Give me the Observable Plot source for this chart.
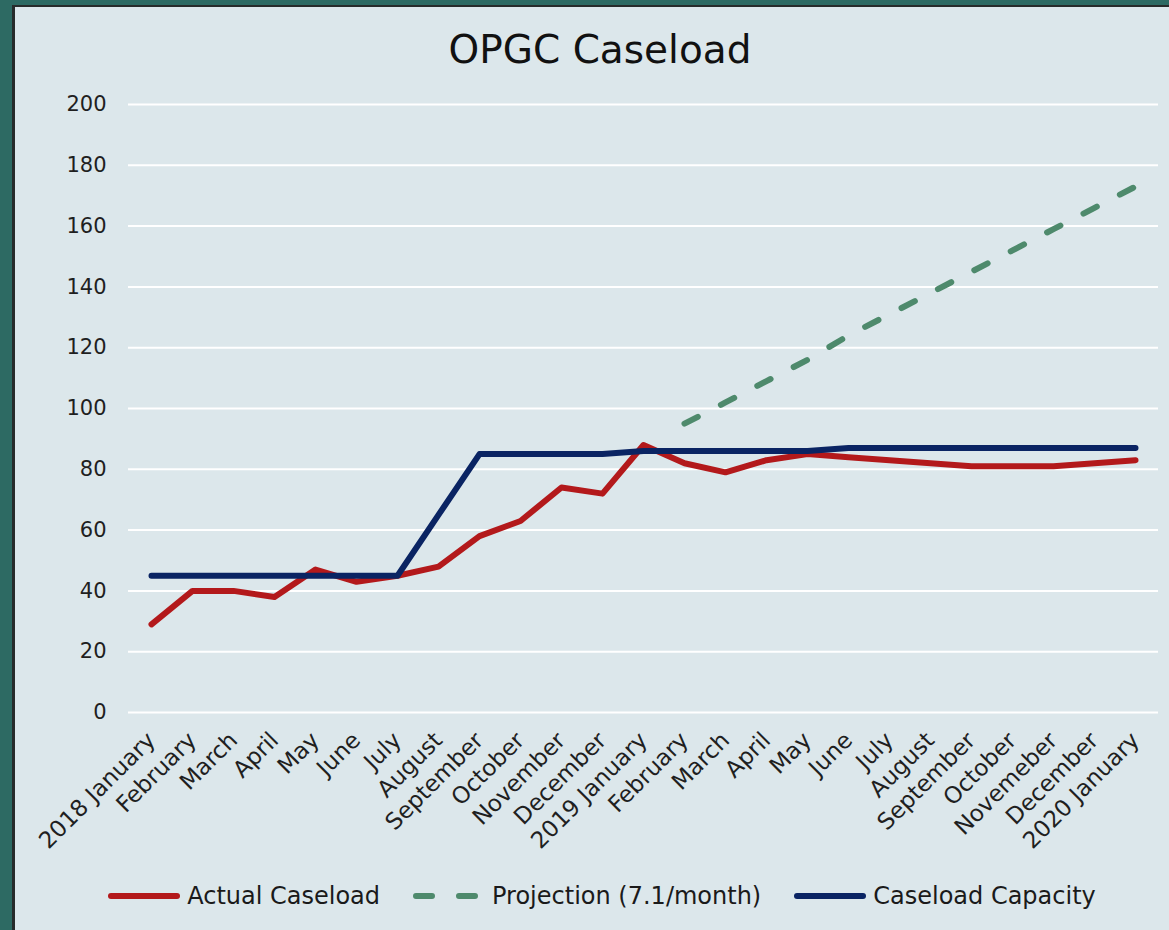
<!DOCTYPE html>
<html>
<head>
<meta charset="utf-8">
<script src="https://cdn.jsdelivr.net/npm/d3@7"></script>
<script src="https://cdn.jsdelivr.net/npm/@observablehq/plot@0.6"></script>
<style>
  html, body { margin: 0; padding: 0; }
  body { width: 1169px; height: 930px; overflow: hidden; background: #2d6a63; position: relative; font-family: "DejaVu Sans", sans-serif; }
  #panel { position: absolute; left: 12px; top: 5px; width: 1157px; height: 925px; box-sizing: border-box;
           border-left: 3px solid #272b2b; border-top: 2px solid #272b2b; background: #dce7eb; }
  #title { position: absolute; left: 15px; width: 1170px; top: 27px; text-align: center; font-size: 39px; color: #111; }
  #chart { position: absolute; left: 15px; top: 80px; }
  #legend { position: absolute; left: 0px; width: 1204px; top: 882px; display: flex; justify-content: center; gap: 33px; font-size: 24px; color: #1a1a1a; }
  .item { display: flex; align-items: center; gap: 7px; }
</style>
</head>
<body>
<div id="panel"></div>
<div id="title">OPGC Caseload</div>
<div id="chart"></div>
<div id="legend"></div>
<script>
const monthLabels = ["2018 January","February","March","April","May","June","July","August","September","October","November","December",
  "2019 January","February","March","April","May","June","July","August","September","October","Novemeber","December","2020 January"];
const actualCaseload = [29,40,40,38,47,43,45,48,58,63,74,72,88,82,79,83,85,84,83,82,81,81,81,82,83];
const caseloadCapacity = [45,45,45,45,45,45,45,65,85,85,85,85,86,86,86,86,86,87,87,87,87,87,87,87,87];
const projectionStart = 13; // index of 2019 February
const projection = [95,102,109,116,124,131,138,145,152,159,166,173];
const yTicks = [0,20,40,60,80,100,120,140,160,180,200];

const seriesNames = ["Actual Caseload","Projection (7.1/month)","Caseload Capacity"];
const seriesColors = ["#b3191b","#4e8a6c","#0a2463"];

const actualData = actualCaseload.map((v,i)=>({i, v}));
const capData = caseloadCapacity.map((v,i)=>({i, v}));
const projData = projection.map((v,k)=>({i: projectionStart + k, v}));

const plot = Plot.plot({
  width: 1154,
  height: 780,
  marginLeft: 113,
  marginRight: 11,
  marginTop: 24,
  marginBottom: 148,
  style: { background: "transparent", fontSize: "21px", fontFamily: "DejaVu Sans, sans-serif", color: "#1f1f1f", overflow: "visible" },
  x: { type: "point", domain: d3.range(monthLabels.length), padding: 0.5, label: null },
  y: { domain: [0, 200], label: null },
  marks: [
    Plot.ruleY(yTicks, { stroke: "#ffffff", strokeWidth: 2 }),
    Plot.axisY({ ticks: yTicks, tickSize: 0, tickPadding: 22, label: null }),
    Plot.axisX({ tickSize: 0, tickPadding: 24, tickRotate: -45, fontSize: 23, tickFormat: i => monthLabels[i], label: null }),
    Plot.line(projData, { x: "i", y: "v", stroke: seriesColors[1], strokeWidth: 6, strokeDasharray: "15,26", strokeLinecap: "round" }),
    Plot.line(actualData, { x: "i", y: "v", stroke: seriesColors[0], strokeWidth: 6, strokeLinecap: "round", strokeLinejoin: "round" }),
    Plot.line(capData, { x: "i", y: "v", stroke: seriesColors[2], strokeWidth: 6, strokeLinecap: "round", strokeLinejoin: "round" })
  ]
});
document.getElementById("chart").appendChild(plot);

const legend = document.getElementById("legend");
seriesNames.forEach((name, k) => {
  const item = document.createElement("div");
  item.className = "item";
  const dash = k === 1 ? 'stroke-dasharray="16,27"' : '';
  item.innerHTML = `<svg width="72" height="12"><line x1="3" y1="6" x2="69" y2="6" stroke="${seriesColors[k]}" stroke-width="6" stroke-linecap="round" ${dash}/></svg><span>${name}</span>`;
  legend.appendChild(item);
});
</script>
</body>
</html>
